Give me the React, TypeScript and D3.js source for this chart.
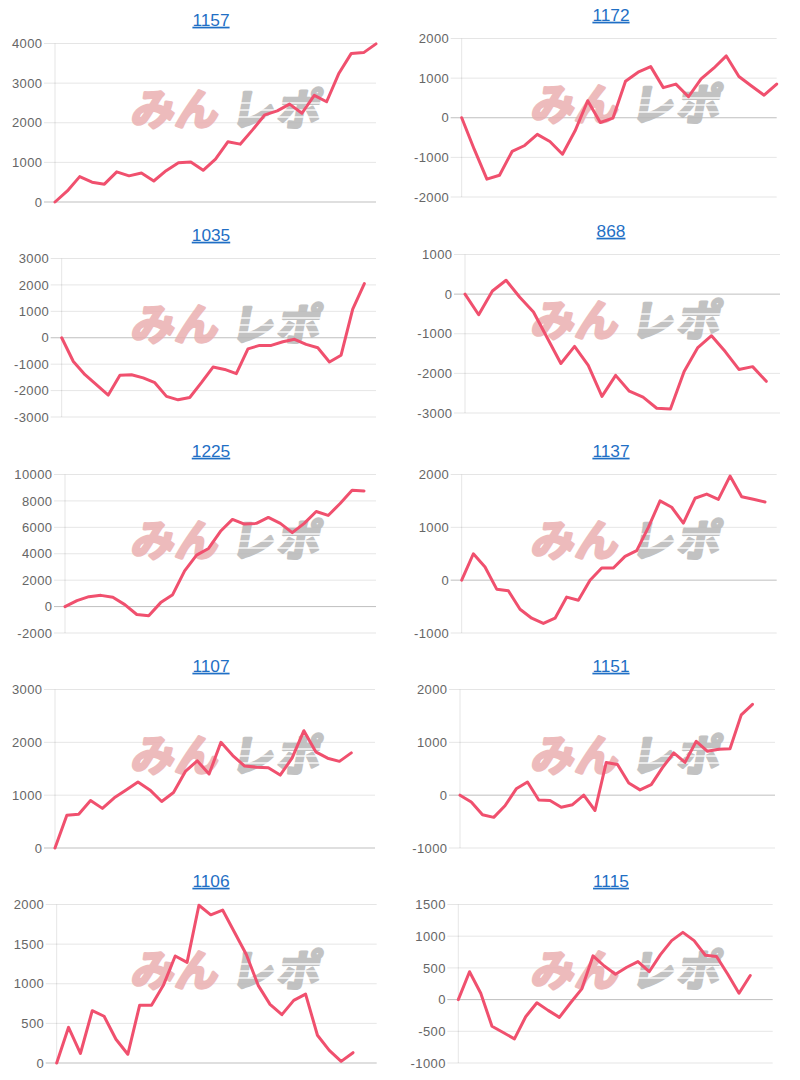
import React from 'react';
import * as d3 from 'd3';

// ---- data ----
const titles = ['1157', '1172', '1035', '868', '1225', '1137', '1107', '1151', '1106', '1115'];

const s1157 = [0, 280, 640, 500, 450, 760, 660, 730, 530, 790, 990, 1010, 800, 1080, 1520, 1460, 1820, 2200, 2300, 2470, 2240, 2690, 2530, 3250, 3750, 3770, 3990];
const s1172 = [0, -800, -1550, -1450, -850, -700, -420, -600, -920, -330, 430, -120, -10, 920, 1150, 1290, 760, 850, 530, 980, 1250, 1560, 1040, 800, 570, 850];
const s1035 = [0, -900, -1400, -1780, -2170, -1420, -1400, -1520, -1700, -2220, -2350, -2260, -1700, -1110, -1200, -1360, -420, -290, -290, -150, -60, -250, -380, -920, -660, 1080, 2050, null];
const s868 = [0, -520, 80, 350, -80, -450, -1100, -1750, -1320, -1800, -2580, -2050, -2450, -2600, -2880, -2900, -1950, -1350, -1050, -1450, -1900, -1830, -2200, null];
const s1225 = [0, 450, 750, 850, 700, 150, -600, -700, 300, 900, 2700, 3900, 4400, 5700, 6600, 6250, 6300, 6750, 6300, 5600, 6300, 7200, 6900, 7800, 8800, 8750, null];
const s1137 = [0, 500, 250, -170, -200, -550, -720, -820, -720, -320, -380, 0, 230, 230, 450, 560, 1000, 1500, 1380, 1080, 1550, 1630, 1530, 1970, 1580, 1530, 1480, null];
const s1107 = [0, 620, 640, 900, 750, 950, 1100, 1250, 1100, 880, 1050, 1450, 1650, 1400, 2000, 1750, 1550, 1530, 1520, 1380, 1700, 2220, 1820, 1700, 1640, 1800, null, null];
const s1151 = [0, -130, -370, -420, -200, 120, 250, -90, -100, -230, -180, 0, -290, 620, 580, 230, 100, 200, 520, 800, 620, 1020, 830, 870, 880, 1520, 1720, null, null];
const s1106 = [0, 450, 120, 660, 590, 300, 110, 730, 730, 980, 1350, 1270, 1990, 1870, 1930, 1650, 1370, 980, 740, 610, 790, 870, 350, 160, 20, 130, null, null];
const s1115 = [0, 440, 100, -420, -520, -620, -270, -50, -170, -280, -50, 170, 690, 530, 400, 510, 600, 440, 710, 930, 1060, 930, 700, 680, 400, 100, 380, null, null];

const seriesList = [s1157, s1172, s1035, s868, s1225, s1137, s1107, s1151, s1106, s1115];

const ticks1157 = [0, 1000, 2000, 3000, 4000];
const ticks1172 = [-2000, -1000, 0, 1000, 2000];
const ticks1035 = [-3000, -2000, -1000, 0, 1000, 2000, 3000];
const ticks868 = [-3000, -2000, -1000, 0, 1000];
const ticks1225 = [-2000, 0, 2000, 4000, 6000, 8000, 10000];
const ticks1137 = [-1000, 0, 1000, 2000];
const ticks1107 = [0, 1000, 2000, 3000];
const ticks1151 = [-1000, 0, 1000, 2000];
const ticks1106 = [0, 500, 1000, 1500, 2000];
const ticks1115 = [-1000, -500, 0, 500, 1000, 1500];

const tickList = [ticks1157, ticks1172, ticks1035, ticks868, ticks1225, ticks1137, ticks1107, ticks1151, ticks1106, ticks1115];

// ---- layout ----
const panelX = [0, 400, 0, 400, 0, 400, 0, 400, 0, 400];
const panelY = [0, -5, 215, 211, 431, 431, 646, 646, 861, 861];
const plotLeft = [55, 61.7, 61.7, 65, 65, 61.7, 55, 60, 56.7, 58.3];
const plotRight = [376, 376.7, 376, 380, 376, 376.7, 375, 375, 376.7, 372.7];
const PLOT_TOP = 43.5;
const PLOT_BOTTOM = 202;
const TITLE_X = [211, 211];

const LINE_COLOR = '#f0506e';
const FONT = '"Liberation Sans", Arial, Helvetica, sans-serif';

function Watermark() {
  const stripes = [103, 110, 117];
  return (
    <g opacity={0.85}>
      <text
        x={132}
        y={125}
        transform="skewX(-10) translate(20,0)"
        fontFamily='"Noto Sans CJK JP", sans-serif'
        fontWeight="bold"
        fontSize={43}
        fill="#eab0b1"
        stroke="#eab0b1"
        strokeWidth={3}
        strokeLinejoin="round"
        letterSpacing={1}
      >
        みん
      </text>
      <text
        x={232}
        y={125}
        transform="skewX(-10) translate(20,0)"
        fontFamily='"Noto Sans CJK JP", sans-serif'
        fontWeight="bold"
        fontSize={43}
        fill="#b8b8b8"
        stroke="#b8b8b8"
        strokeWidth={3}
        strokeLinejoin="round"
        letterSpacing={3}
      >
        レポ
      </text>
      {stripes.map((sy) => (
        <line key={sy} x1={236} x2={332} y1={sy} y2={sy} stroke="#fff" strokeWidth={1.5} opacity={0.9} />
      ))}
    </g>
  );
}

function Panel({ idx }: { idx: number }) {
  const data = seriesList[idx];
  const ticks = tickList[idx];
  const left = plotLeft[idx];
  const right = plotRight[idx];
  const x = d3.scalePoint<number>().domain(d3.range(data.length)).range([left, right]);
  const y = d3
    .scaleLinear()
    .domain([d3.min(ticks) as number, d3.max(ticks) as number])
    .range([PLOT_BOTTOM, PLOT_TOP]);
  const line = d3
    .line<number | null>()
    .defined((d) => d != null)
    .x((_, i) => x(i) as number)
    .y((d) => y(d as number));
  const titleX = TITLE_X[idx % 2];
  return (
    <g transform={`translate(${panelX[idx]},${panelY[idx]})`}>
      <text
        x={titleX}
        y={25.7}
        textAnchor="middle"
        fontFamily={FONT}
        fontSize={17.3}
        fill="#1f6fc5"
        textDecoration="underline"
        style={{ textDecoration: 'underline' }}
      >
        {titles[idx]}
      </text>
      {ticks.map((t) => (
        <g key={t}>
          <line
            x1={left - 11}
            x2={right}
            y1={y(t)}
            y2={y(t)}
            stroke={t === 0 ? 'rgba(0,0,0,0.25)' : 'rgba(0,0,0,0.1)'}
            strokeWidth={1}
          />
          <text
            x={left - 12.5}
            y={y(t) + 4.6}
            textAnchor="end"
            fontFamily={FONT}
            fontSize={13}
            letterSpacing={0.4}
            fill="#666"
          >
            {t}
          </text>
        </g>
      ))}
      <line x1={left} x2={left} y1={PLOT_TOP} y2={PLOT_BOTTOM} stroke="rgba(0,0,0,0.1)" strokeWidth={1} />
      <Watermark />
      <path
        d={line(data) || ''}
        fill="none"
        stroke={LINE_COLOR}
        strokeWidth={3}
        strokeLinejoin="round"
        strokeLinecap="round"
      />
    </g>
  );
}

export default function App() {
  return (
    <svg
      width={800}
      height={1080}
      style={{ position: 'absolute', left: 0, top: 0, background: '#fff' }}
    >
      <rect x={0} y={0} width={800} height={1080} fill="#fff" />
      {titles.map((_, i) => (
        <Panel key={i} idx={i} />
      ))}
    </svg>
  );
}
